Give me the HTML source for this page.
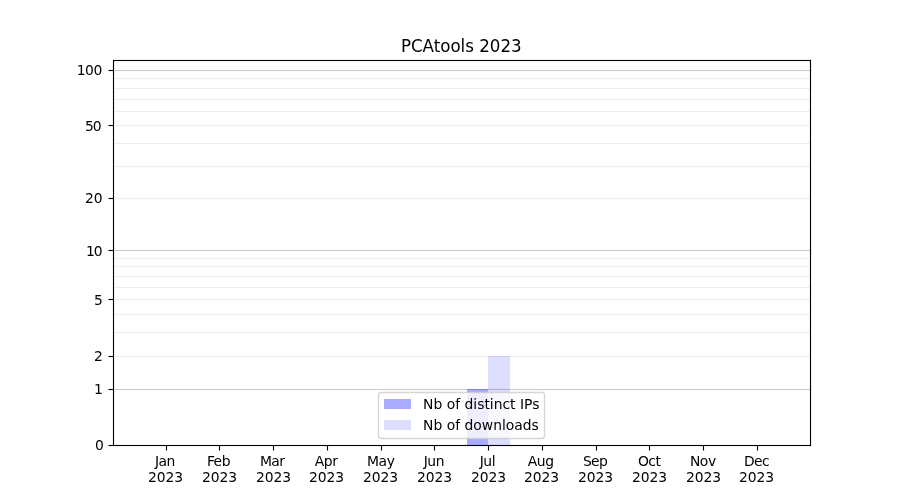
<!DOCTYPE html>
<html lang="en">
<head>
<meta charset="utf-8">
<title>PCAtools 2023</title>
<style>
html,body{margin:0;padding:0;background:#fff;}
body{width:900px;height:500px;overflow:hidden;}
svg{display:block;will-change:transform;}
text{font-family:'DejaVu Sans','Liberation Sans',sans-serif;font-size:13.889px;fill:#000;}
.title{font-size:16.667px;}
</style>
</head>
<body>
<svg width="900" height="500" viewBox="0 0 900 500">
<rect x="0" y="0" width="900" height="500" fill="#ffffff"/>
<g id="grid">
<rect x="113" y="388.945" width="697" height="1.11" fill="#cccccc"/>
<rect x="113" y="249.945" width="697" height="1.11" fill="#cccccc"/>
<rect x="113" y="69.945" width="697" height="1.11" fill="#cccccc"/>
<rect x="113" y="355.945" width="697" height="1.11" fill="#eeeeee"/>
<rect x="113" y="331.945" width="697" height="1.11" fill="#eeeeee"/>
<rect x="113" y="313.945" width="697" height="1.11" fill="#eeeeee"/>
<rect x="113" y="298.945" width="697" height="1.11" fill="#eeeeee"/>
<rect x="113" y="286.945" width="697" height="1.11" fill="#eeeeee"/>
<rect x="113" y="275.945" width="697" height="1.11" fill="#eeeeee"/>
<rect x="113" y="265.945" width="697" height="1.11" fill="#eeeeee"/>
<rect x="113" y="257.945" width="697" height="1.11" fill="#eeeeee"/>
<rect x="113" y="197.945" width="697" height="1.11" fill="#eeeeee"/>
<rect x="113" y="165.945" width="697" height="1.11" fill="#eeeeee"/>
<rect x="113" y="142.945" width="697" height="1.11" fill="#eeeeee"/>
<rect x="113" y="124.945" width="697" height="1.11" fill="#eeeeee"/>
<rect x="113" y="110.945" width="697" height="1.11" fill="#eeeeee"/>
<rect x="113" y="98.945" width="697" height="1.11" fill="#eeeeee"/>
<rect x="113" y="87.945" width="697" height="1.11" fill="#eeeeee"/>
<rect x="113" y="77.945" width="697" height="1.11" fill="#eeeeee"/>
</g>
<g id="bars" shape-rendering="crispEdges">
<rect x="467" y="389" width="21" height="56" fill="#0000ff" fill-opacity="0.3333"/>
<rect x="488" y="356" width="22" height="89" fill="#0000ff" fill-opacity="0.1333"/>
</g>
<g id="spines" fill="#000000">
<rect x="112.945" y="59.945" width="1.11" height="386.11"/>
<rect x="809.945" y="59.945" width="1.11" height="386.11"/>
<rect x="112.945" y="59.945" width="698.11" height="1.11"/>
<rect x="112.945" y="444.945" width="698.11" height="1.11"/>
</g>
<g id="ticks" fill="#000000">
<rect x="165.945" y="445.5" width="1.11" height="5"/>
<rect x="218.945" y="445.5" width="1.11" height="5"/>
<rect x="272.945" y="445.5" width="1.11" height="5"/>
<rect x="326.945" y="445.5" width="1.11" height="5"/>
<rect x="380.945" y="445.5" width="1.11" height="5"/>
<rect x="433.945" y="445.5" width="1.11" height="5"/>
<rect x="487.945" y="445.5" width="1.11" height="5"/>
<rect x="541.945" y="445.5" width="1.11" height="5"/>
<rect x="595.945" y="445.5" width="1.11" height="5"/>
<rect x="648.945" y="445.5" width="1.11" height="5"/>
<rect x="702.945" y="445.5" width="1.11" height="5"/>
<rect x="756.945" y="445.5" width="1.11" height="5"/>
<rect x="108.5" y="444.945" width="4.5" height="1.11"/>
<rect x="108.5" y="388.945" width="4.5" height="1.11"/>
<rect x="108.5" y="355.945" width="4.5" height="1.11"/>
<rect x="108.5" y="298.945" width="4.5" height="1.11"/>
<rect x="108.5" y="249.945" width="4.5" height="1.11"/>
<rect x="108.5" y="197.945" width="4.5" height="1.11"/>
<rect x="108.5" y="124.945" width="4.5" height="1.11"/>
<rect x="108.5" y="69.945" width="4.5" height="1.11"/>
</g>
<g id="xlabels" text-anchor="middle">
<text x="164.82" y="466.2" letter-spacing="-0.60">Jan</text><text x="165.45" y="481.8" letter-spacing="-0.10">2023</text>
<text x="218.44" y="466.2" letter-spacing="-0.50">Feb</text><text x="219.44" y="481.8" letter-spacing="-0.10">2023</text>
<text x="272.17" y="466.2" letter-spacing="-0.65">Mar</text><text x="273.42" y="481.8" letter-spacing="-0.10">2023</text>
<text x="326.16" y="466.2" letter-spacing="-0.45">Apr</text><text x="326.53" y="481.8" letter-spacing="-0.10">2023</text>
<text x="380.77" y="466.2" letter-spacing="-0.45">May</text><text x="380.52" y="481.8" letter-spacing="-0.10">2023</text>
<text x="433.88" y="466.2" letter-spacing="-0.50">Jun</text><text x="434.51" y="481.8" letter-spacing="-0.10">2023</text>
<text x="487.37" y="466.2" letter-spacing="-0.45">Jul</text><text x="488.49" y="481.8" letter-spacing="-0.10">2023</text>
<text x="540.60" y="466.2" letter-spacing="-0.40">Aug</text><text x="541.48" y="481.8" letter-spacing="-0.10">2023</text>
<text x="594.97" y="466.2" letter-spacing="-0.70">Sep</text><text x="595.47" y="481.8" letter-spacing="-0.10">2023</text>
<text x="649.20" y="466.2" letter-spacing="-0.50">Oct</text><text x="649.45" y="481.8" letter-spacing="-0.10">2023</text>
<text x="702.81" y="466.2" letter-spacing="-0.45">Nov</text><text x="703.44" y="481.8" letter-spacing="-0.10">2023</text>
<text x="756.43" y="466.2" letter-spacing="-0.65">Dec</text><text x="756.43" y="481.8" letter-spacing="-0.10">2023</text>
</g>
<g id="ylabels" text-anchor="end">
<text x="102.70" y="450.28" letter-spacing="-1.10">0</text>
<text x="101.66" y="393.94" letter-spacing="-1.10">1</text>
<text x="101.66" y="360.99" letter-spacing="-1.10">2</text>
<text x="101.66" y="304.66" letter-spacing="-1.10">5</text>
<text x="101.66" y="256.30" letter-spacing="-1.00">10</text>
<text x="102.28" y="202.85" letter-spacing="-0.25">20</text>
<text x="100.66" y="130.74" letter-spacing="-1.00">50</text>
<text x="101.78" y="75.21" letter-spacing="-0.50">100</text>
</g>
<text class="title" transform="translate(461.25 51.9) scale(1 1.07)" x="0" y="0" text-anchor="middle">PCAtools 2023</text>
<g id="legend">
<rect x="378.5" y="392.5" width="166" height="46" rx="2.78" ry="2.78" fill="#ffffff" fill-opacity="0.8" stroke="#cccccc" stroke-opacity="0.8" stroke-width="1.389"/>
<rect x="384" y="399" width="27" height="10" fill="#aaaaff" shape-rendering="crispEdges"/>
<rect x="384" y="420" width="27" height="10" fill="#ddddff" shape-rendering="crispEdges"/>
<text x="423.12" y="409.23">Nb of distinct IPs</text>
<text x="423.12" y="429.61">Nb of downloads</text>
</g>
</svg>
</body>
</html>
